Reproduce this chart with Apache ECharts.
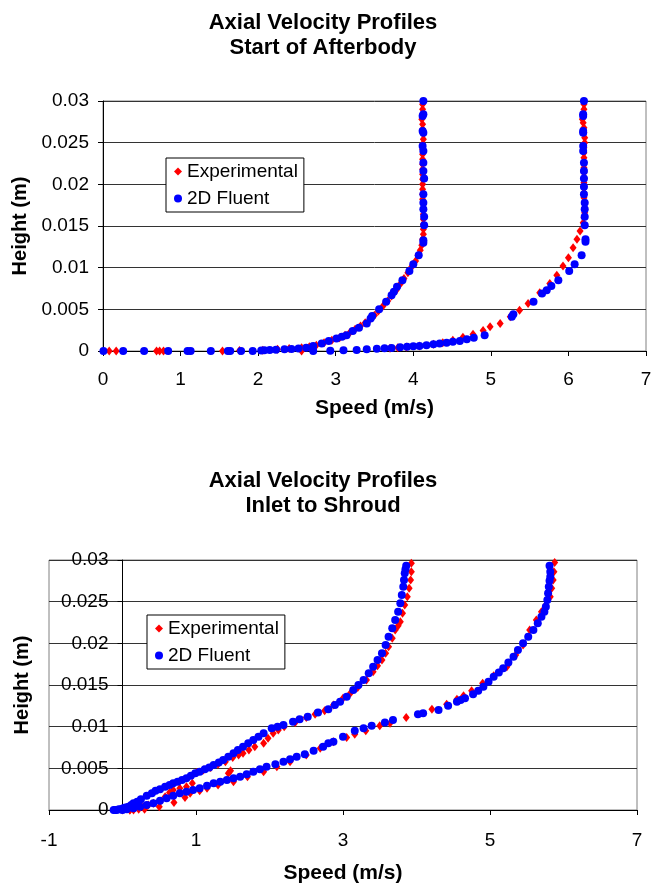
<!DOCTYPE html>
<html>
<head>
<meta charset="utf-8">
<script src="https://cdn.jsdelivr.net/npm/echarts@6/dist/echarts.min.js"></script>
<style>
html,body{margin:0;padding:0;background:#fff;}
#chart{width:652px;height:886px;}
</style>
</head>
<body>
<div id="chart"></div>
<script>
// ---------- Data (speed m/s, height m) ----------
// Top chart: Start of Afterbody
const afterbodyExpLow = [
  [0.08,0],[0.17,0],[0.69,0],[0.73,0],[0.78,0],[1.54,0],[1.76,0.00005],[2.06,0.0001],[2.25,0.0002],[2.40,0.0003],
  [2.56,0.0004],[2.66,0.0005],[2.75,0.0007],[2.85,0.0010],[2.95,0.0013],[3.05,0.0016],[3.12,0.0019],[3.18,0.0022],
  [3.25,0.0026],[3.32,0.0030],[3.38,0.0034],[3.44,0.0038],[3.50,0.0043],[3.55,0.0048],[3.61,0.0054],[3.67,0.0060],
  [3.72,0.0066],[3.78,0.0073],[3.83,0.0080],[3.88,0.0087],[3.93,0.0094],[3.98,0.0101],[4.03,0.0108],[4.06,0.0115],
  [4.09,0.0121],[4.11,0.0127],[4.12,0.0134],[4.13,0.0140],[4.13,0.0146],[4.13,0.0152],[4.13,0.0158],[4.13,0.0164],
  [4.13,0.0170],[4.13,0.0176],[4.12,0.0182],[4.12,0.0188],[4.12,0.0194],[4.12,0.0200],[4.12,0.0206],[4.12,0.0212],
  [4.12,0.0218],[4.12,0.0224],[4.12,0.0230],[4.12,0.0236],[4.12,0.0242],[4.12,0.0248],[4.13,0.0254],[4.13,0.0260],
  [4.12,0.0266],[4.12,0.0272],[4.11,0.0278],[4.12,0.0284],[4.12,0.0290],[4.12,0.0296]
];
const afterbodyExpHigh = [
  [2.56,0],[3.70,0.00032],[3.80,0.0004],[3.91,0.00048],[4.08,0.0006],[4.26,0.0008],[4.38,0.0010],[4.51,0.0013],
  [4.64,0.00165],[4.77,0.0020],[4.90,0.00245],[4.99,0.0029],[5.12,0.0033],[5.25,0.0041],[5.37,0.0049],[5.48,0.0057],
  [5.63,0.0070],[5.76,0.0081],[5.85,0.0091],[5.93,0.0102],[6.00,0.0112],[6.06,0.0124],[6.11,0.0134],[6.15,0.0144],
  [6.19,0.0154],[6.20,0.0160],[6.21,0.0166],[6.21,0.0172],[6.21,0.0178],[6.20,0.0184],[6.20,0.0190],[6.20,0.0196],
  [6.20,0.0202],[6.20,0.0208],[6.20,0.0214],[6.20,0.0220],[6.20,0.0226],[6.20,0.0232],[6.20,0.0238],[6.20,0.0244],
  [6.21,0.0250],[6.21,0.0256],[6.20,0.0262],[6.20,0.0268],[6.19,0.0274],[6.18,0.0278],[6.19,0.0284],[6.20,0.0290],
  [6.20,0.0296]
];
const afterbodyFluentLow = [
  [0.006,0],[0.26,0],[0.53,0],[0.84,0],[1.09,0],[1.13,0],[1.39,0],[1.61,0],[1.64,0],[1.78,0],[1.93,0],
  [2.04,0.00005],[2.08,0.0001],[2.15,0.00012],[2.23,0.00015],[2.34,0.0002],[2.43,0.00025],[2.52,0.0003],[2.62,0.0004],
  [2.71,0.0006],[2.82,0.0009],[2.91,0.0012],[3.01,0.0015],[3.08,0.0017],[3.14,0.0019],[3.22,0.0024],[3.30,0.0028],
  [3.40,0.0033],[3.45,0.0039],[3.47,0.0042],[3.56,0.0050],[3.65,0.0059],[3.72,0.0067],[3.75,0.0071],[3.79,0.0077],
  [3.86,0.0085],[3.95,0.0096],[4.00,0.0104],[4.07,0.0115],[4.13,0.0130],[4.13,0.0133],[4.14,0.0151],[4.14,0.0161],
  [4.13,0.0170],[4.13,0.0178],[4.13,0.0188],[4.14,0.0207],[4.13,0.0216],[4.13,0.0226],[4.13,0.0240],[4.12,0.0246],
  [4.13,0.0262],[4.12,0.0264],[4.12,0.0282],[4.13,0.0284],[4.13,0.0300]
];
const afterbodyFluentHigh = [
  [2.71,0],[2.93,0.00004],[3.10,0.0001],[3.27,0.00012],[3.40,0.0002],[3.53,0.00028],[3.63,0.00032],[3.72,0.00036],
  [3.83,0.00045],[3.92,0.0005],[4.00,0.00057],[4.08,0.0006],[4.17,0.0007],[4.26,0.0008],[4.34,0.0009],[4.43,0.0010],
  [4.51,0.0011],[4.60,0.0012],[4.69,0.0014],[4.78,0.0016],[4.92,0.0019],[5.27,0.0041],[5.29,0.0044],[5.55,0.0059],
  [5.66,0.0069],[5.72,0.0073],[5.78,0.0078],[5.87,0.0085],[6.01,0.0096],[6.08,0.0104],[6.17,0.0115],[6.22,0.0131],
  [6.22,0.0134],[6.21,0.0151],[6.21,0.0161],[6.21,0.0170],[6.21,0.0178],[6.20,0.0188],[6.20,0.0197],[6.20,0.0207],
  [6.20,0.0216],[6.20,0.0226],[6.19,0.0240],[6.19,0.0246],[6.19,0.0262],[6.19,0.0264],[6.19,0.0282],[6.19,0.0284],
  [6.20,0.0300]
];

// Bottom chart: Inlet to Shroud
const inletExpLow = [
  [0.00,0],[0.10,0],[0.15,0],[0.22,0.0001],[0.28,0.0004],[0.35,0.0006],[0.42,0.0008],[0.51,0.0010],[0.58,0.0016],
  [0.64,0.0021],[0.69,0.0024],[0.78,0.0026],[0.87,0.0028],[0.95,0.0032],[1.01,0.0045],[1.10,0.0048],[1.20,0.0051],
  [1.30,0.0055],[1.40,0.0058],[1.44,0.0044],[1.47,0.0047],[1.50,0.0063],[1.58,0.0066],[1.64,0.0068],[1.72,0.0072],
  [1.80,0.0076],[1.92,0.0080],[1.98,0.0086],[2.05,0.0092],[2.12,0.0096],[2.20,0.0100],[2.35,0.0105],[2.50,0.0111],
  [2.62,0.0115],[2.75,0.0119],[2.87,0.0126],[3.00,0.0134],[3.10,0.0140],[3.20,0.0147],[3.32,0.0156],[3.41,0.0166],
  [3.47,0.0173],[3.53,0.0180],[3.58,0.0188],[3.62,0.0196],[3.67,0.0206],[3.71,0.0216],[3.75,0.0221],[3.78,0.0226],
  [3.81,0.0236],[3.84,0.0246],[3.875,0.0256],[3.90,0.0266],[3.92,0.0276],[3.93,0.0286],[3.93,0.0296]
];
const inletExpHigh = [
  [0.10,0],[0.30,0.0001],[0.50,0.0004],[0.70,0.0009],[0.85,0.0015],[0.92,0.0020],[1.05,0.0023],[1.15,0.0026],
  [1.30,0.0030],[1.51,0.0034],[1.70,0.0040],[1.92,0.0046],[2.10,0.0052],[2.28,0.0058],[2.50,0.0066],[2.69,0.0074],
  [2.87,0.0082],[3.05,0.0087],[3.16,0.0091],[3.31,0.0095],[3.50,0.0101],[3.64,0.0104],[3.86,0.0111],[4.21,0.0121],
  [4.41,0.0127],[4.55,0.0133],[4.64,0.0137],[4.75,0.0143],[4.90,0.0152],[5.05,0.0161],[5.23,0.0172],[5.35,0.0186],
  [5.45,0.0198],[5.54,0.0216],[5.63,0.0228],[5.70,0.0238],[5.76,0.0246],[5.82,0.0256],[5.84,0.0266],[5.86,0.0276],
  [5.87,0.0286],[5.88,0.0297]
];
const inletFluentLow = [
  [-0.12,0],[-0.08,0],[-0.05,0.0001],[-0.02,0.0001],[0.01,0.0002],[0.04,0.0003],[0.08,0.0004],[0.12,0.0006],
  [0.15,0.0008],[0.20,0.0010],[0.25,0.0013],[0.33,0.0017],[0.40,0.0020],[0.45,0.0023],[0.51,0.0025],[0.58,0.0028],
  [0.64,0.0030],[0.69,0.0032],[0.75,0.0034],[0.81,0.0036],[0.87,0.0038],[0.93,0.0041],[0.99,0.0044],[1.05,0.0046],
  [1.12,0.0049],[1.18,0.0051],[1.24,0.0054],[1.31,0.0057],[1.37,0.0060],[1.44,0.0064],[1.51,0.0068],[1.57,0.0072],
  [1.64,0.0076],[1.71,0.0080],[1.78,0.0084],[1.85,0.0088],[1.92,0.0092],[2.03,0.0098],[2.11,0.0100],[2.19,0.0102],
  [2.32,0.0106],[2.41,0.0109],[2.52,0.0112],[2.66,0.0117],[2.80,0.0121],[2.89,0.0126],[2.96,0.0130],[3.05,0.0136],
  [3.14,0.0144],[3.21,0.0150],[3.28,0.0156],[3.35,0.0164],[3.41,0.0172],[3.47,0.0180],[3.53,0.0188],[3.58,0.0198],
  [3.62,0.0208],[3.67,0.0218],[3.71,0.0228],[3.75,0.0238],[3.78,0.0248],[3.80,0.0258],[3.82,0.0268],[3.83,0.0276],
  [3.84,0.0284],[3.85,0.0289],[3.86,0.0293]
];
const inletFluentHigh = [
  [-0.10,0],[0.00,0],[0.06,0.0001],[0.15,0.0002],[0.24,0.0004],[0.33,0.0006],[0.42,0.0008],[0.51,0.0011],
  [0.60,0.0014],[0.69,0.0017],[0.78,0.0020],[0.87,0.0022],[0.96,0.0024],[1.05,0.0026],[1.15,0.0029],[1.24,0.0032],
  [1.33,0.0034],[1.42,0.0036],[1.51,0.0038],[1.60,0.0040],[1.69,0.0043],[1.78,0.0046],[1.87,0.0049],[1.96,0.0052],
  [2.08,0.0055],[2.19,0.0058],[2.28,0.0061],[2.37,0.0064],[2.48,0.0067],[2.60,0.0071],[2.73,0.0076],[2.80,0.0080],
  [2.87,0.0082],[3.00,0.0088],[3.16,0.0095],[3.28,0.0098],[3.39,0.0101],[3.57,0.0105],[3.68,0.0108],[4.02,0.0115],
  [4.09,0.0116],[4.30,0.0120],[4.43,0.0125],[4.55,0.0130],[4.60,0.0132],[4.66,0.0134],[4.77,0.0139],[4.84,0.0143],
  [4.91,0.0148],[4.98,0.0154],[5.05,0.0160],[5.12,0.0165],[5.18,0.0170],[5.25,0.0177],[5.32,0.0184],[5.38,0.0192],
  [5.45,0.0200],[5.52,0.0208],[5.59,0.0216],[5.65,0.0224],[5.70,0.0232],[5.74,0.0238],[5.76,0.0244],[5.78,0.0252],
  [5.79,0.0260],[5.80,0.0268],[5.81,0.0275],[5.82,0.0280],[5.82,0.0286],[5.81,0.0293]
];

const titles = ['Axial Velocity Profiles\nStart of Afterbody', 'Axial Velocity Profiles\nInlet to Shroud'];
const seriesNames = ['Experimental', '2D Fluent'];
const xName = 'Speed (m/s)';
const yName = 'Height (m)';

// ---------- Chart ----------
const FONT = 'Liberation Sans, Arial, sans-serif';
const chart = echarts.init(document.getElementById('chart'), null, {renderer: 'canvas'});

function xAxisCfg(gridIndex, min, max, interval, nameGap, labelMargin) {
  return {
    gridIndex, type: 'value', min, max, interval,
    name: xName, nameLocation: 'middle', nameGap,
    nameTextStyle: {fontFamily: FONT, fontSize: 21, fontWeight: 'bold', color: '#000'},
    axisLine: {onZero: false, lineStyle: {color: '#000', width: 1}},
    axisTick: {show: true, length: 5, lineStyle: {color: '#000'}},
    axisLabel: {fontFamily: FONT, fontSize: 19, color: '#000', margin: labelMargin},
    splitLine: {show: false}
  };
}
// offset: negative value shifts the y axis to the right (bottom chart: axis sits at speed 0)
function yAxisCfg(gridIndex, nameGap, offset) {
  return {
    gridIndex, type: 'value', min: 0, max: 0.03, interval: 0.005, offset,
    name: yName, nameLocation: 'middle', nameGap,
    nameTextStyle: {fontFamily: FONT, fontSize: 20, fontWeight: 'bold', color: '#000'},
    axisLine: {onZero: false, lineStyle: {color: '#000', width: 1}},
    axisTick: {show: true, length: 5, lineStyle: {color: '#000'}},
    axisLabel: {fontFamily: FONT, fontSize: 19, color: '#000', margin: 14,
      formatter: v => String(+v.toFixed(4))},
    splitLine: {show: true, lineStyle: {color: '#333', width: 1}}
  };
}
function legendCfg(left, top) {
  return {
    orient: 'vertical', left, top,
    data: seriesNames,
    itemWidth: 8, itemHeight: 8, itemGap: 8,
    padding: [4, 6, 4, 8],
    borderColor: '#000', borderWidth: 1, borderRadius: 0,
    backgroundColor: '#fff',
    textStyle: {fontFamily: FONT, fontSize: 19, color: '#000', lineHeight: 19}
  };
}
const expStyle = {symbol: 'diamond', symbolSize: [7, 9], itemStyle: {color: '#ff0000', opacity: 1}};
const fluentStyle = {symbol: 'circle', symbolSize: 8, itemStyle: {color: '#0000ff', opacity: 1}};

chart.setOption({
  animation: false,
  backgroundColor: '#fff',
  title: [
    {text: titles[0], left: 323, top: 10, textAlign: 'center', padding: 0,
     textStyle: {fontFamily: FONT, fontSize: 22, fontWeight: 'bold', color: '#000', lineHeight: 25}},
    {text: titles[1], left: 323, top: 468, textAlign: 'center', padding: 0,
     textStyle: {fontFamily: FONT, fontSize: 22, fontWeight: 'bold', color: '#000', lineHeight: 25}}
  ],
  legend: [legendCfg(166, 158), legendCfg(147, 615)],
  grid: [
    {left: 103, top: 101, width: 543, height: 250, show: true, borderColor: '#808080', borderWidth: 1,
     backgroundColor: 'transparent', containLabel: false, outerBoundsMode: 'none'},
    {left: 49, top: 560, width: 588, height: 250, show: true, borderColor: '#808080', borderWidth: 1,
     backgroundColor: 'transparent', containLabel: false, outerBoundsMode: 'none'}
  ],
  xAxis: [xAxisCfg(0, 0, 7, 1, 47, 19), xAxisCfg(1, -1, 7, 2, 53, 21)],
  yAxis: [yAxisCfg(0, 71, 0), yAxisCfg(1, 90, -73.5)],
  series: [
    Object.assign({name: seriesNames[0], type: 'scatter', xAxisIndex: 0, yAxisIndex: 0,
      data: afterbodyExpLow.concat(afterbodyExpHigh)}, expStyle),
    Object.assign({name: seriesNames[1], type: 'scatter', xAxisIndex: 0, yAxisIndex: 0,
      data: afterbodyFluentLow.concat(afterbodyFluentHigh)}, fluentStyle),
    Object.assign({name: seriesNames[0], type: 'scatter', xAxisIndex: 1, yAxisIndex: 1,
      data: inletExpLow.concat(inletExpHigh)}, expStyle),
    Object.assign({name: seriesNames[1], type: 'scatter', xAxisIndex: 1, yAxisIndex: 1,
      data: inletFluentLow.concat(inletFluentHigh)}, fluentStyle)
  ]
});
</script>
</body>
</html>
